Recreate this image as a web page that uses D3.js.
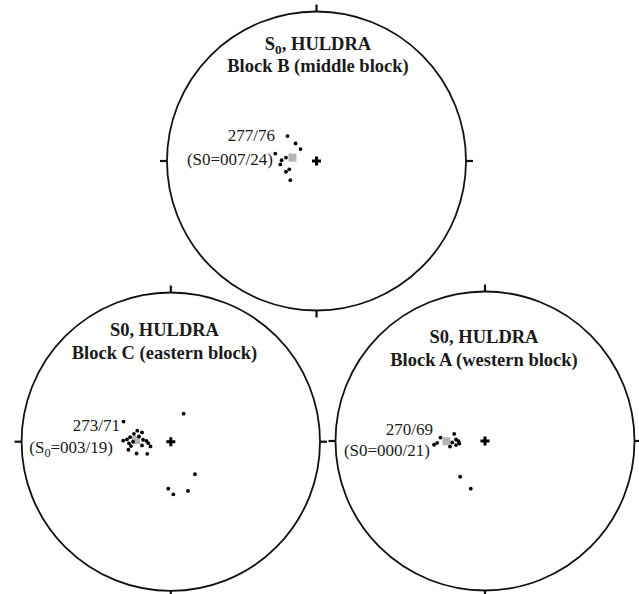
<!DOCTYPE html>
<meta charset="utf-8">
<script src="https://cdn.jsdelivr.net/npm/d3@7"></script>
<style>
body { margin: 0; background: #fff; }
text { font-family: "Liberation Serif", "Times New Roman", serif; fill: #1a1a1a; }
.title { font-weight: bold; font-size: 18.5px; text-anchor: middle; }
.lab { font-size: 17px; text-anchor: end; }
</style>
<body>
<script>

// nets: B (middle), C (eastern), A (western)
var netNames = ["B", "C", "A"];

// title lines, [main, sub0?] — sub0 = true means subscript zero
var titleLine1 = [["S", "0", ", HULDRA"], ["S0, HULDRA"], ["S0, HULDRA"]];
var titleLine2 = ["Block B (middle block)", "Block C (eastern block)", "Block A (western block)"];

// mean pole label and bedding label
var meanLabel = ["277/76", "273/71", "270/69"];
var beddingLabel = [["(S0=007/24)"], ["(S", "0", "=003/19)"], ["(S0=000/21)"]];

// poles, in units of net radius (east, north)
var polesB = [
  [-0.194, 0.167], [-0.140, 0.117], [-0.107, 0.080], [-0.276, 0.050], [-0.204, 0.023],
  [-0.233, 0.005], [-0.242, -0.023], [-0.182, -0.056], [-0.204, -0.072], [-0.175, -0.128]
];
var polesC = [
  [-0.317, 0.135], [-0.225, 0.074], [-0.193, 0.062], [-0.247, 0.052], [-0.273, 0.030],
  [-0.294, 0.015], [-0.319, 0.007], [-0.186, 0.013], [-0.163, 0.005], [-0.253, 0.000],
  [-0.280, -0.011], [-0.151, -0.010], [-0.136, -0.032], [-0.267, -0.029], [-0.284, -0.054],
  [-0.230, -0.079], [-0.158, -0.081], [-0.213, 0.035], [-0.193, -0.025],
  [0.086, 0.188], [0.162, -0.218], [-0.017, -0.315], [0.017, -0.353], [0.115, -0.330]
];
var polesA = [
  [-0.298, 0.023], [-0.206, 0.047], [-0.320, -0.013], [-0.341, -0.025], [-0.194, 0.010],
  [-0.177, -0.001], [-0.219, -0.010], [-0.234, -0.037], [-0.194, -0.027], [-0.172, -0.017],
  [-0.166, -0.239], [-0.095, -0.319]
];
var poles = [polesB, polesC, polesA];

// mean pole (grey square)
var means = [[-0.161, 0.023], [-0.233, 0.011], [-0.258, -0.002]];

// layout of each net (pixels)
var layout = [
  {cx: 316.5, cy: 161, r: 149.5, tx: 318, t1: 50, t2: 72, lx1: 275, ly1: 141, lx2: 273, ly2: 165},
  {cx: 170.8, cy: 441.7, r: 149.2, tx: 164.5, t1: 336, t2: 359, lx1: 120, ly1: 431, lx2: 113, ly2: 453},
  {cx: 485, cy: 441, r: 149.5, tx: 484, t1: 343, t2: 366, lx1: 433, ly1: 435, lx2: 430, ly2: 456}
];

var width = 639, height = 594;

var svg = d3.select("body").append("svg")
    .attr("width", width)
    .attr("height", height);

function addParts(sel, parts) {
  // parts: plain strings, a "0" after "S" becomes subscript
  if (parts.length == 1) { sel.text(parts[0]); return; }
  sel.append("tspan").text(parts[0]);
  sel.append("tspan").attr("dy", 4).style("font-size", "72%").text(parts[1]);
  sel.append("tspan").attr("dy", -4).text(parts[2]);
}

netNames.forEach(function(name, i) {
  var L = layout[i];
  var x = d3.scaleLinear().domain([-1, 1]).range([L.cx - L.r, L.cx + L.r]);
  var y = d3.scaleLinear().domain([-1, 1]).range([L.cy + L.r, L.cy - L.r]);

  var g = svg.append("g").attr("class", "net net-" + name);

  // primitive circle
  g.append("circle")
      .attr("cx", x(0)).attr("cy", y(0)).attr("r", L.r)
      .attr("fill", "none").attr("stroke", "#111").attr("stroke-width", 1.8);

  // N, E, S, W ticks
  var tk = 7;
  var ticks = [[0, 1], [1, 0], [0, -1], [-1, 0]];
  g.selectAll("line.tick").data(ticks).enter().append("line")
      .attr("class", "tick")
      .attr("x1", function(d) { return x(d[0]); })
      .attr("y1", function(d) { return y(d[1]); })
      .attr("x2", function(d) { return x(d[0]) + d[0] * tk; })
      .attr("y2", function(d) { return y(d[1]) - d[1] * tk; })
      .attr("stroke", "#111").attr("stroke-width", 2.2);

  // centre cross
  g.append("path")
      .attr("d", "M-4.5,0H4.5M0,-4.5V4.5")
      .attr("transform", "translate(" + x(0) + "," + y(0) + ")")
      .attr("stroke", "#000").attr("stroke-width", 3);

  // mean pole
  g.append("rect")
      .attr("x", x(means[i][0]) - 4).attr("y", y(means[i][1]) - 4)
      .attr("width", 8).attr("height", 8)
      .attr("fill", "#b4b4b4");

  // poles
  g.selectAll("circle.pole").data(poles[i]).enter().append("circle")
      .attr("class", "pole")
      .attr("cx", function(d) { return x(d[0]); })
      .attr("cy", function(d) { return y(d[1]); })
      .attr("r", 1.9)
      .attr("fill", "#000");

  // titles
  addParts(g.append("text").attr("class", "title").attr("x", L.tx).attr("y", L.t1), titleLine1[i]);
  g.append("text").attr("class", "title").attr("x", L.tx).attr("y", L.t2).text(titleLine2[i]);

  // labels
  g.append("text").attr("class", "lab").attr("x", L.lx1).attr("y", L.ly1).text(meanLabel[i]);
  addParts(g.append("text").attr("class", "lab").attr("x", L.lx2).attr("y", L.ly2), beddingLabel[i]);
});

</script>
</body>
